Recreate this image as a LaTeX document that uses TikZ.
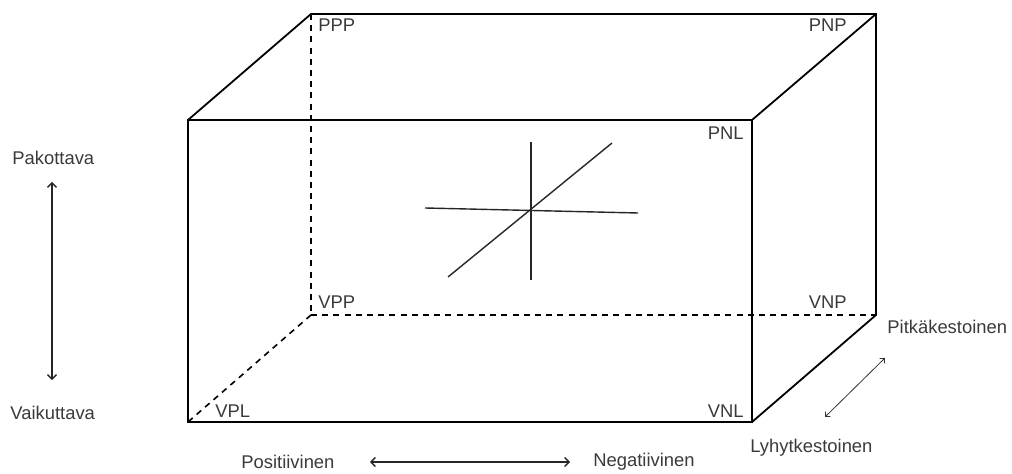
\documentclass[tikz,border=0pt]{standalone}
\usepackage{fontspec}
\setmainfont{Liberation Sans}
\usetikzlibrary{arrows.meta}
\definecolor{labelgray}{HTML}{3A3A3A}
\begin{document}
\begin{tikzpicture}[x=0.5pt,y=-0.5pt,
  edge/.style={line width=0.9pt,black},
  hidden/.style={line width=0.8pt,black,dash pattern=on 3pt off 2.6pt},
  cross/.style={line width=0.7pt,black!85},
  axisarrow/.style={line width=0.7pt,black!85,{Straight Barb[length=2.2pt,width=4.5pt]}-{Straight Barb[length=2.2pt,width=4.5pt]}},
  thinarrow/.style={line width=0.4pt,black!80,{Straight Barb[length=1.8pt,width=3.5pt]}-{Straight Barb[length=1.8pt,width=3.5pt]}},
  lbl/.style={text=labelgray,font=\fontsize{9.2}{11}\selectfont,inner sep=0pt}]
\useasboundingbox (0,0) rectangle (1012,474);

% corners of the box
\coordinate (PNLc) at (752,120);
\coordinate (VPLc) at (188,422);
\coordinate (VNLc) at (752,422);
\coordinate (PPLc) at (188,120);
\coordinate (PPPc) at (311,14);
\coordinate (PNPc) at (876,14);
\coordinate (VPPc) at (311,315);
\coordinate (VNPc) at (876,315);

% hidden edges
\draw[hidden] (PPPc) -- (VPPc);
\draw[hidden] (VPPc) -- (VNPc);
\draw[hidden] (VPPc) -- (VPLc);

% visible edges
\draw[edge] (PPLc) rectangle (VNLc);
\draw[edge] (PPLc) -- (PPPc) -- (PNPc) -- (VNPc) -- (VNLc);
\draw[edge] (PNLc) -- (PNPc);

% corner labels
\node[lbl,anchor=west] (PPP) at (318,25) {PPP};
\node[lbl,anchor=east] (PNP) at (847,25) {PNP};
\node[lbl,anchor=east] (PNL) at (744,133) {PNL};
\node[lbl,anchor=west] (VPP) at (318,302) {VPP};
\node[lbl,anchor=east] (VNP) at (847,302) {VNP};
\node[lbl,anchor=west] (VPL) at (215,411) {VPL};
\node[lbl,anchor=east] (VNL) at (744,411) {VNL};

% axes cross in the centre
\coordinate (cxT) at (531,142);
\coordinate (cxB) at (531,280);
\coordinate (cxL) at (425,208);
\coordinate (cxR) at (638,213);
\coordinate (cxD1) at (448,277);
\coordinate (cxD2) at (612,143);
\draw[cross] (cxT) -- (cxB);
\draw[cross] (cxL) -- (cxR);
\draw[cross] (cxD1) -- (cxD2);

% vertical scale
\node[lbl,anchor=west] (pak) at (12,158) {Pakottava};
\node[lbl,anchor=west] (vai) at (10,413) {Vaikuttava};
\coordinate (vTop) at (52,182);
\coordinate (vBot) at (52,380);
\draw[axisarrow] (vTop) -- (vBot);

% horizontal scale
\node[lbl,anchor=west] (pos) at (241,462) {Positiivinen};
\node[lbl,anchor=west] (neg) at (593,462) {Negatiivinen};
\coordinate (hL) at (370,462);
\coordinate (hR) at (570,462);
\draw[axisarrow] (hL) -- (hR);

% depth scale
\node[lbl,anchor=west] (pit) at (887,327) {Pitkäkestoinen};
\node[lbl,anchor=west] (lyh) at (750,448) {Lyhytkestoinen};
\coordinate (dA) at (885,358);
\coordinate (dB) at (825,417);
\draw[thinarrow] (dA) -- (dB);
\end{tikzpicture}
\end{document}
